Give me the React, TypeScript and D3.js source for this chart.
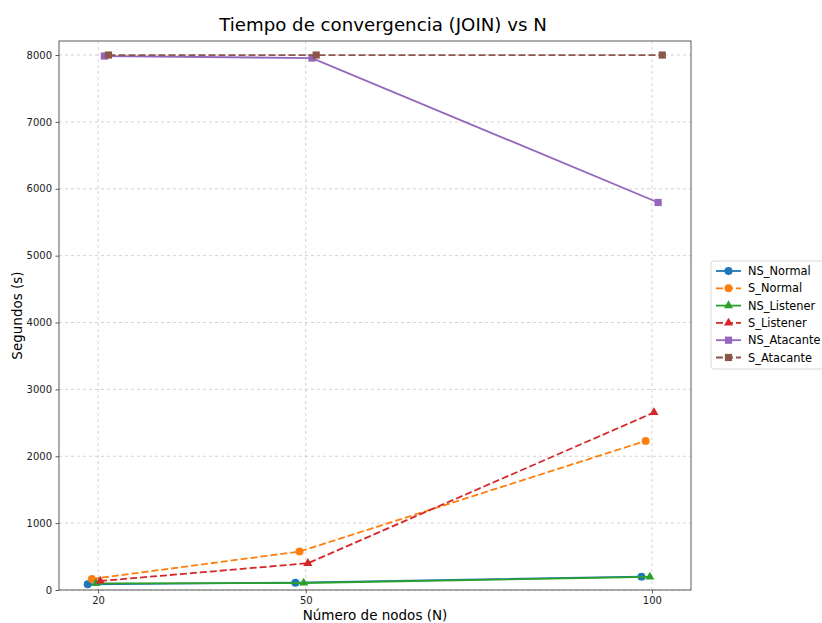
import React, { useRef, useEffect } from 'react';
import * as d3 from 'd3';

// N values and per-series horizontal offsets (as plotted)
const nValues = [20, 50, 100];
const xTicks = [20, 50, 100];
const yTicks = [0, 1000, 2000, 3000, 4000, 5000, 6000, 7000, 8000];

const seriesNames = ['NS_Normal', 'S_Normal', 'NS_Listener', 'S_Listener', 'NS_Atacante', 'S_Atacante'];
const seriesOffsets = [-1.5, -0.9, -0.3, 0.3, 0.9, 1.5];
const nsNormal = [85, 110, 200];
const sNormal = [165, 575, 2230];
const nsListener = [100, 105, 195];
const sListener = [135, 400, 2655];
const nsAtacante = [7985, 7955, 5795];
const sAtacante = [8000, 8000, 8000];
const seriesValues = [nsNormal, sNormal, nsListener, sListener, nsAtacante, sAtacante];
const seriesColors = ['#1f77b4', '#ff7f0e', '#2ca02c', '#d62728', '#9467bd', '#8c564b'];
const seriesDashed = [false, true, false, true, false, true];
const seriesMarkers = ['circle', 'circle', 'triangle', 'triangle', 'square', 'square'];

const W = 822, H = 623;
const margin = { top: 41, right: 131, bottom: 33, left: 59 };

const markerSize = (m: string) => (m === 'triangle' ? 36 : m === 'square' ? 52 : 50);

const App = () => {
  const ref = useRef<SVGSVGElement>(null);

  useEffect(() => {
    const svg = d3.select(ref.current);
    svg.selectAll('*').remove();
    const font = 'DejaVu Sans, sans-serif';

    const x = d3.scaleLinear().domain([14.35, 105.65]).range([margin.left, W - margin.right]);
    const y = d3.scaleLinear().domain([0, 8210]).range([H - margin.bottom, margin.top]);

    svg.append('rect').attr('width', W).attr('height', H).attr('fill', '#fff');

    // grid
    const grid = svg.append('g').attr('stroke', '#b0b0b0').attr('stroke-opacity', 0.7)
      .attr('stroke-width', 0.8).attr('stroke-dasharray', '3,3');
    xTicks.forEach(t => grid.append('line').attr('x1', x(t)).attr('x2', x(t))
      .attr('y1', margin.top).attr('y2', H - margin.bottom));
    yTicks.forEach(t => grid.append('line').attr('y1', y(t)).attr('y2', y(t))
      .attr('x1', margin.left).attr('x2', W - margin.right));

    // series
    const symbols: Record<string, d3.SymbolType> = {
      circle: d3.symbolCircle, triangle: d3.symbolTriangle, square: d3.symbolSquare,
    };
    const line = d3.line<[number, number]>().x(d => x(d[0])).y(d => y(d[1]));
    seriesNames.forEach((name, i) => {
      const pts: [number, number][] = nValues.map((n, j) => [n + seriesOffsets[i], seriesValues[i][j]]);
      const g = svg.append('g');
      g.append('path').attr('d', line(pts)).attr('fill', 'none')
        .attr('stroke', seriesColors[i]).attr('stroke-width', 1.8)
        .attr('stroke-dasharray', seriesDashed[i] ? '7,3' : null);
      g.selectAll('path.m').data(pts).enter().append('path').attr('class', 'm')
        .attr('d', d3.symbol().type(symbols[seriesMarkers[i]]).size(markerSize(seriesMarkers[i]))())
        .attr('transform', d => `translate(${x(d[0])},${y(d[1])})`)
        .attr('fill', seriesColors[i]);
    });

    // axes
    const xAxis = svg.append('g').attr('transform', `translate(0,${H - margin.bottom})`)
      .call(d3.axisBottom(x).tickValues(xTicks).tickSize(3.5).tickPadding(3.5));
    const yAxis = svg.append('g').attr('transform', `translate(${margin.left},0)`)
      .call(d3.axisLeft(y).tickValues(yTicks).tickFormat(d3.format('d')).tickSize(3.5).tickPadding(3.5));
    [xAxis, yAxis].forEach(a => {
      a.select('.domain').remove();
      a.selectAll('text').attr('font-family', font).attr('font-size', 10).attr('fill', '#222');
      a.selectAll('line').attr('stroke', '#333').attr('stroke-width', 0.8);
    });
    svg.append('rect').attr('x', margin.left).attr('y', margin.top)
      .attr('width', W - margin.right - margin.left).attr('height', H - margin.bottom - margin.top)
      .attr('fill', 'none').attr('stroke', '#333').attr('stroke-width', 0.8);

    // labels
    svg.append('text').attr('x', (margin.left + W - margin.right) / 2 + 8).attr('y', 31)
      .attr('text-anchor', 'middle').attr('font-family', font).attr('font-size', 18.2)
      .attr('fill', '#000').text('Tiempo de convergencia (JOIN) vs N');
    svg.append('text').attr('x', (margin.left + W - margin.right) / 2).attr('y', 620)
      .attr('text-anchor', 'middle').attr('font-family', font).attr('font-size', 13.5)
      .attr('fill', '#000').text('Número de nodos (N)');
    svg.append('text').attr('transform', `translate(22,${(margin.top + H - margin.bottom) / 2}) rotate(-90)`)
      .attr('text-anchor', 'middle').attr('font-family', font).attr('font-size', 13.5)
      .attr('fill', '#000').text('Segundos (s)');

    // legend
    const lg = svg.append('g').attr('transform', 'translate(711,261)');
    lg.append('rect').attr('width', 116).attr('height', 108).attr('rx', 3)
      .attr('fill', '#fff').attr('stroke', '#d0d0d0').attr('stroke-width', 0.8);
    seriesNames.forEach((name, i) => {
      const ly = 10 + i * 17.3;
      lg.append('line').attr('x1', 5).attr('x2', 30).attr('y1', ly).attr('y2', ly)
        .attr('stroke', seriesColors[i]).attr('stroke-width', 1.8)
        .attr('stroke-dasharray', seriesDashed[i] ? '7,3' : null);
      lg.append('path').attr('d', d3.symbol().type(symbols[seriesMarkers[i]]).size(markerSize(seriesMarkers[i]))())
        .attr('transform', `translate(17.5,${ly})`).attr('fill', seriesColors[i]);
      lg.append('text').attr('x', 37).attr('y', ly + 4).attr('font-family', font)
        .attr('font-size', 11.4).attr('fill', '#000').text(name);
    });
  }, []);

  return <svg ref={ref} width={W} height={H} style={{ display: 'block', position: 'absolute', left: 0, top: 0 }} />;
};

export default App;
